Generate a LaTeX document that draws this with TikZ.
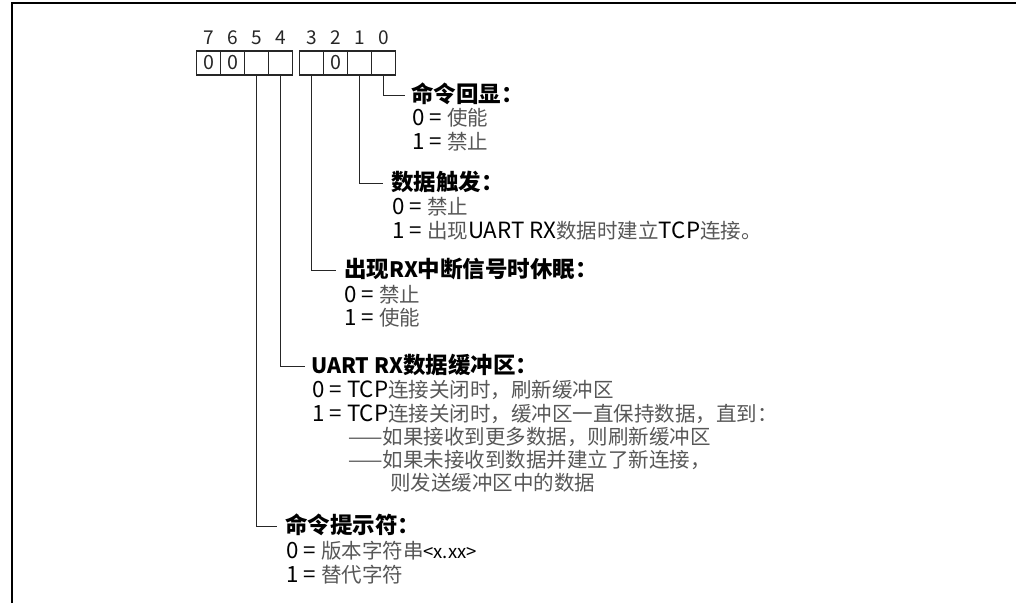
\documentclass[tikz,border=0pt]{standalone}
\usepackage{fontspec}
\setmainfont{Noto Sans CJK SC}[Scale=1.09]
\newfontfamily\cjk{Noto Sans CJK SC}
\newcommand\gy[1]{{\cjk\color{black!66}#1}}
\newcommand\hz[1]{{\cjk #1}}
\newcommand\hl[1]{{\fontsize{19.5}{22}\selectfont #1}}
\begin{document}
\begin{tikzpicture}[x=1pt,y=-1pt,
  every node/.style={font=\fontsize{20.5}{24}\selectfont},
  cell/.style={draw=black!85,line width=1.2pt,minimum width=24pt,minimum height=24pt,inner sep=0pt,outer sep=0pt,font=\fontsize{18}{20}\selectfont,text=black!85},
  bitnum/.style={inner sep=0pt,text=black!85,font=\fontsize{17.5}{20}\selectfont},
  head/.style={anchor=west,inner xsep=6pt,inner ysep=0pt,text height=17pt,text depth=2pt,font=\fontsize{22.5}{26}\selectfont\bfseries},
  val/.style={anchor=base west,inner sep=0pt},
  conn/.style={draw=black!85,line width=1pt}]
\useasboundingbox (0,0) rectangle (1016,603);
\draw[line width=2pt] (11.5,603) -- (11.5,3) -- (1016,3);
% bit cells
\node[cell] (b7) at (208.5,63) {0};
\node[cell] (b6) at (232.5,63) {0};
\node[cell] (b5) at (256.5,63) {};
\node[cell] (b4) at (280.5,63) {};
\node[cell] (b3) at (311.5,63) {};
\node[cell] (b2) at (335.5,63) {0};
\node[cell] (b1) at (359.5,63) {};
\node[cell] (b0) at (383.5,63) {};
% bit numbers
\foreach \n/\x in {7/208.5,6/232.5,5/256.5,4/280.5,3/311.5,2/335.5,1/359.5,0/383.5}
  \node[bitnum] (n\n) at (\x,38) {\n};
% bit 0
\node[head] (h0) at (405,95) {\hz{命令回显：}};
\node[val] (v0a) at (412,125) {0 = \gy{使能}};
\node[val] (v0b) at (412,149) {1 = \gy{禁止}};
% bit 1
\node[head,inner xsep=8pt] (h1) at (383,183) {\hz{数据触发：}};
\node[val] (v1a) at (392,214) {0 = \gy{禁止}};
\node[val] (v1b) at (392,238) {1 = \gy{出现}UART RX\gy{数据时建立}TCP\gy{连接。}};
% bit 3
\node[head,inner xsep=8pt] (h3) at (336,270) {\hz{出现}\hl{RX}\hz{中断信号时休眠：}};
\node[val] (v3a) at (344,302) {0 = \gy{禁止}};
\node[val] (v3b) at (344,325) {1 = \gy{使能}};
% bit 4
\node[head] (h4) at (305,366) {\hl{UART RX}\hz{数据缓冲区：}};
\node[val] (v4a) at (312,397) {0 = TCP\gy{连接关闭时，刷新缓冲区}};
\node[val] (v4b) at (312,421) {1 = TCP\gy{连接关闭时，缓冲区一直保持数据，直到：}};
\node[val] (v4c) at (348,444) {\gy{——如果接收到更多数据，则刷新缓冲区}};
\node[val] (v4d) at (348,467) {\gy{——如果未接收到数据并建立了新连接，}};
\node[val] (v4e) at (390,490) {\gy{则发送缓冲区中的数据}};
% bit 5
\node[head,inner xsep=8pt] (h5) at (277,526) {\hz{命令提示符：}};
\node[val] (v5a) at (286,558) {0 = \gy{版本字符串}{\fontsize{17}{19}\selectfont<x.xx>}};
\node[val] (v5b) at (286,582) {1 = \gy{替代字符}};
% connectors
\draw[conn] (b0.south) |- (h0.west);
\draw[conn] (b1.south) |- (h1.west);
\draw[conn] (b3.south) |- (h3.west);
\draw[conn] (b4.south) |- (h4.west);
\draw[conn] (b5.south) |- (h5.west);
\end{tikzpicture}
\end{document}
